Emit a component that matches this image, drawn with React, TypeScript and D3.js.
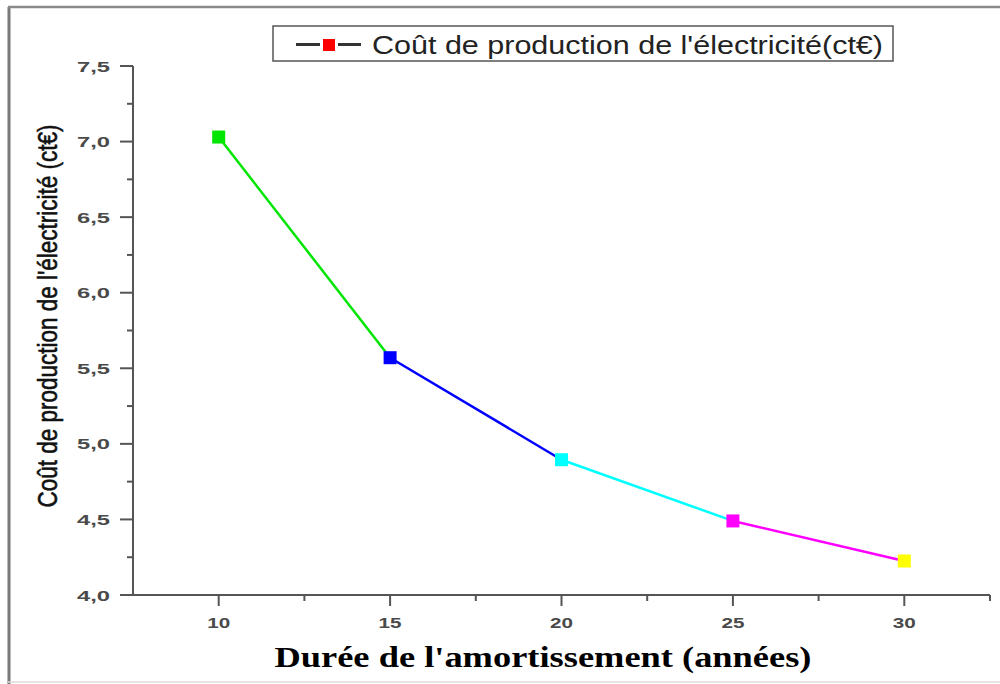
import React from 'react';
import * as d3 from 'd3';

const years = [10, 15, 20, 25, 30];
const costs = [7.03, 5.57, 4.895, 4.49, 4.225];
const pointColors = ['#00e600', '#0000ff', '#00ffff', '#ff00ff', '#ffff00'];
const xTicks = [10, 15, 20, 25, 30];
const xMinorTicks = [12.5, 17.5, 22.5, 27.5, 32.5];
const yTicks = [4.0, 4.5, 5.0, 5.5, 6.0, 6.5, 7.0, 7.5];
const yMinorTicks = [4.25, 4.75, 5.25, 5.75, 6.25, 6.75, 7.25];
const yTickLabels = ['4,0', '4,5', '5,0', '5,5', '6,0', '6,5', '7,0', '7,5'];
const xTickLabels = ['10', '15', '20', '25', '30'];
const legendLabel = "Coût de production de l'électricité(ct€)";
const yTitle = "Coût de production de l'électricité (ct€)";
const xTitle = "Durée de l'amortissement (années)";

export default function App() {
  const W = 1000, H = 684;
  const x = d3.scaleLinear().domain([7.5, 32.5]).range([133, 990]);
  const y = d3.scaleLinear().domain([4.0, 7.5]).range([595, 66]);
  const axisColor = '#555';
  const tickFont = { fontFamily: 'Liberation Sans, Arial, sans-serif', fontWeight: 700, fontSize: 15, fill: '#4a4a4a' };
  const segs = years.slice(0, -1).map((yr, i) => ({
    x1: x(yr), y1: y(costs[i]), x2: x(years[i + 1]), y2: y(costs[i + 1]), c: pointColors[i],
  }));
  const ms = 13;
  return (
    <svg width={W} height={H} style={{ position: 'absolute', left: 0, top: 0, background: '#fff' }}>
      {/* frame */}
      <line x1={9} y1={7} x2={9} y2={684} stroke="#7a7a7a" strokeWidth={3} />
      <line x1={8} y1={7} x2={1000} y2={7} stroke="#8a8a8a" strokeWidth={2.5} />
      <line x1={8} y1={682} x2={1000} y2={682} stroke="#dddddd" strokeWidth={1.5} />

      {/* legend */}
      <rect x={273} y={26} width={620} height={35} fill="#fff" stroke="#555" strokeWidth={1.5} />
      <line x1={296} y1={44.5} x2={320} y2={44.5} stroke="#333" strokeWidth={3} />
      <line x1={338} y1={44.5} x2={361} y2={44.5} stroke="#333" strokeWidth={3} />
      <rect x={323} y={39} width={12} height={12} fill="#ff0000" />
      <text x={372} y={54} textLength={511} lengthAdjust="spacingAndGlyphs"
        style={{ fontFamily: 'Liberation Sans, Arial, sans-serif', fontSize: 26, fill: '#222' }}>{legendLabel}</text>

      {/* y axis */}
      <line x1={133} y1={y(7.5)} x2={133} y2={y(4.0)} stroke={axisColor} strokeWidth={2} />
      {yTicks.map((t, i) => (
        <g key={'yt' + i}>
          <line x1={120} x2={133} y1={y(t)} y2={y(t)} stroke={axisColor} strokeWidth={2} />
          <text x={110} y={y(t) + 5.5} textAnchor="end" textLength={33} lengthAdjust="spacingAndGlyphs" style={tickFont}>{yTickLabels[i]}</text>
        </g>
      ))}
      {yMinorTicks.map((t, i) => (
        <line key={'ym' + i} x1={127} x2={133} y1={y(t)} y2={y(t)} stroke={axisColor} strokeWidth={2} />
      ))}

      {/* x axis */}
      <line x1={133} y1={595} x2={x(32.5)} y2={595} stroke={axisColor} strokeWidth={2} />
      {xTicks.map((t, i) => (
        <g key={'xt' + i}>
          <line x1={x(t)} x2={x(t)} y1={595} y2={606} stroke={axisColor} strokeWidth={2} />
          <text x={x(t)} y={628} textAnchor="middle" textLength={23} lengthAdjust="spacingAndGlyphs" style={tickFont}>{xTickLabels[i]}</text>
        </g>
      ))}
      {xMinorTicks.map((t, i) => (
        <line key={'xm' + i} x1={x(t)} x2={x(t)} y1={595} y2={601} stroke={axisColor} strokeWidth={2} />
      ))}

      {/* titles */}
      <text transform={`translate(57,316) rotate(-90)`} textAnchor="middle" textLength={383} lengthAdjust="spacingAndGlyphs"
        style={{ fontFamily: 'Liberation Sans, Arial, sans-serif', fontSize: 28, fill: '#111', stroke: '#111', strokeWidth: 0.6 }}>{yTitle}</text>
      <text x={543} y={667} textAnchor="middle" textLength={537} lengthAdjust="spacingAndGlyphs"
        style={{ fontFamily: 'Liberation Serif, Times New Roman, serif', fontWeight: 700, fontSize: 30, fill: '#000' }}>{xTitle}</text>

      {/* line segments */}
      {segs.map((s, i) => (
        <line key={'s' + i} x1={s.x1} y1={s.y1} x2={s.x2} y2={s.y2} stroke={s.c} strokeWidth={2.5} />
      ))}
      {years.map((yr, i) => (
        <rect key={'m' + i} x={x(yr) - ms / 2} y={y(costs[i]) - ms / 2} width={ms} height={ms} fill={pointColors[i]} />
      ))}
    </svg>
  );
}
